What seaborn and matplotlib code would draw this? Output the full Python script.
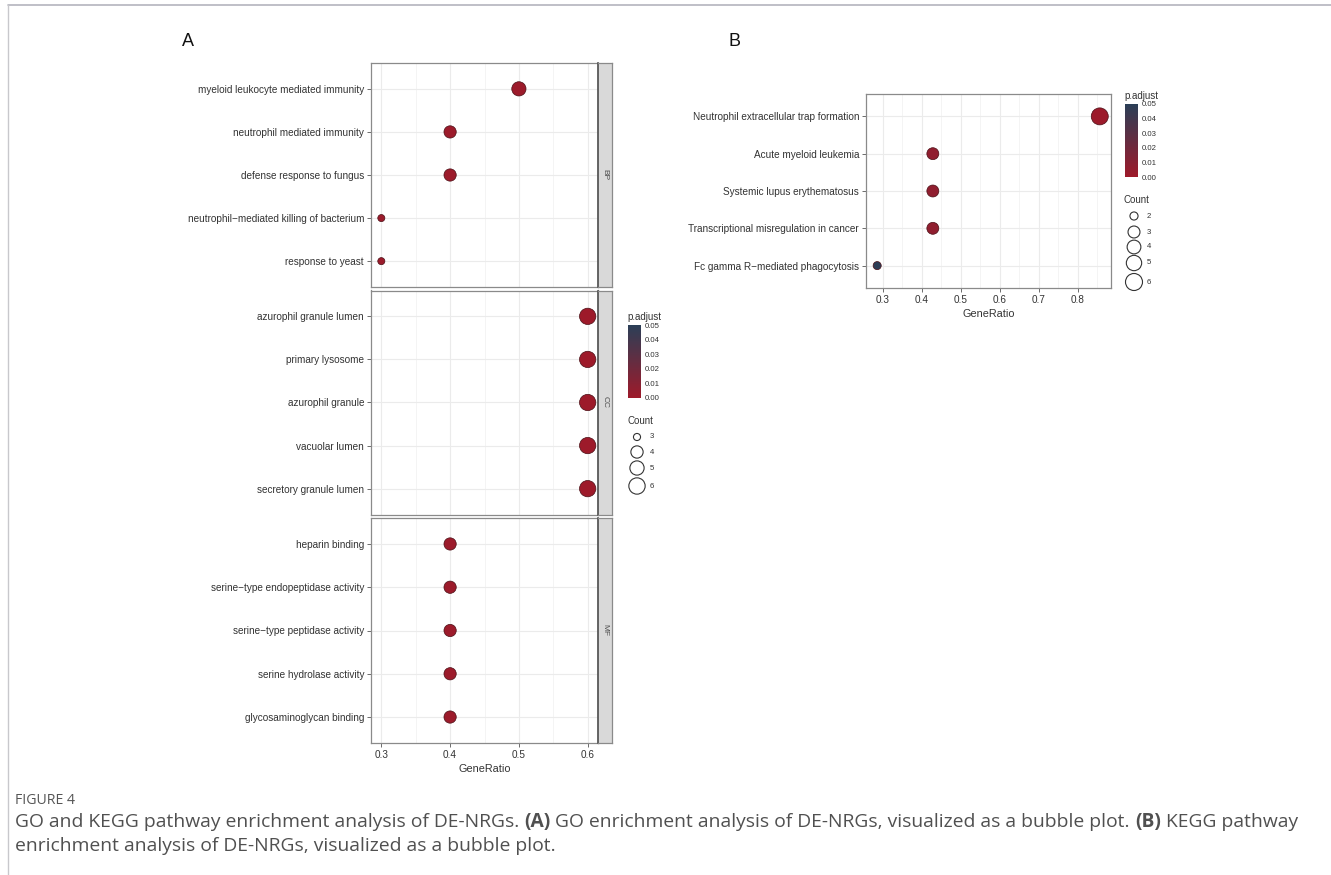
import matplotlib
matplotlib.use("Agg")
import matplotlib.pyplot as plt
import numpy as np
import pandas as pd
import seaborn as sns
from matplotlib.colors import LinearSegmentedColormap, Normalize
from matplotlib.cm import ScalarMappable
from matplotlib.ticker import MultipleLocator

sns.set_theme(style="white")
plt.rcParams["font.family"] = ["Liberation Sans", "DejaVu Sans"]

# ---------------- data ----------------
bp_terms = ["myeloid leukocyte mediated immunity", "neutrophil mediated immunity",
            "defense response to fungus", "neutrophil\u2212mediated killing of bacterium",
            "response to yeast"]
bp_ratio = [0.5, 0.4, 0.4, 0.3, 0.3]
bp_count = [5, 4, 4, 3, 3]
bp_padj = [0.0008, 0.0010, 0.0010, 0.0012, 0.0012]

cc_terms = ["azurophil granule lumen", "primary lysosome", "azurophil granule",
            "vacuolar lumen", "secretory granule lumen"]
cc_ratio = [0.6, 0.6, 0.6, 0.6, 0.6]
cc_count = [6, 6, 6, 6, 6]
cc_padj = [0.0005, 0.0005, 0.0005, 0.0005, 0.0005]

mf_terms = ["heparin binding", "serine\u2212type endopeptidase activity",
            "serine\u2212type peptidase activity", "serine hydrolase activity",
            "glycosaminoglycan binding"]
mf_ratio = [0.4, 0.4, 0.4, 0.4, 0.4]
mf_count = [4, 4, 4, 4, 4]
mf_padj = [0.0010, 0.0010, 0.0010, 0.0010, 0.0010]

kegg_terms = ["Neutrophil extracellular trap formation", "Acute myeloid leukemia",
              "Systemic lupus erythematosus", "Transcriptional misregulation in cancer",
              "Fc gamma R\u2212mediated phagocytosis"]
kegg_ratio = [6 / 7, 3 / 7, 3 / 7, 3 / 7, 2 / 7]
kegg_count = [6, 3, 3, 3, 2]
kegg_padj = [0.0008, 0.0060, 0.0060, 0.0060, 0.0490]

go_x_ticks = [0.3, 0.4, 0.5, 0.6]
kegg_x_ticks = [0.3, 0.4, 0.5, 0.6, 0.7, 0.8]
padj_ticks = [0.00, 0.01, 0.02, 0.03, 0.04, 0.05]
go_count_levels = [3, 4, 5, 6]
kegg_count_levels = [2, 3, 4, 5, 6]

# ---------------- styling ----------------
W, H = 1331, 875
fig = plt.figure(figsize=(W / 100, H / 100), dpi=100)
fig.patch.set_facecolor("white")

cmap = LinearSegmentedColormap.from_list("padj", ["#9E1A2A", "#2B3F57"])
norm = Normalize(0.0, 0.05)
go_sizes = {3: 26, 4: 78, 5: 105, 6: 138}
kegg_sizes = {2: 34, 3: 74, 4: 98, 5: 122, 6: 150}
EDGE = "#4a0e15"
TXT = "#333333"
BORDER = "#8a8a8a"


def rect(l, t, r, b):
    return [l / W, 1 - b / H, (r - l) / W, (b - t) / H]


# overlay in pixel coordinates for labels, legends and caption
ov = fig.add_axes([0, 0, 1, 1], zorder=-1)
ov.set_xlim(0, W)
ov.set_ylim(H, 0)
ov.axis("off")


def style_panel(ax, xlim, xticks, nrows, show_x):
    ax.set_xlim(*xlim)
    ax.set_ylim(nrows - 0.4, -0.6)
    ax.set_xticks(xticks)
    ax.xaxis.set_minor_locator(MultipleLocator(0.05))
    ax.grid(True, which="major", color="#ebebeb", lw=0.8)
    ax.grid(True, which="minor", axis="x", color="#f3f3f3", lw=0.6)
    ax.set_axisbelow(True)
    for s in ax.spines.values():
        s.set_color(BORDER)
        s.set_linewidth(0.9)
    ax.tick_params(axis="both", which="major", length=3, width=0.6, color="#555555",
                   labelsize=7.2, labelcolor=TXT, pad=2, bottom=show_x, left=True,
                   labelbottom=show_x)
    ax.tick_params(axis="both", which="minor", length=0)
    ax.set_xlabel("")
    ax.set_ylabel("")


def bubble(ax, terms, ratio, count, padj, sizes):
    df = pd.DataFrame({"Description": terms, "GeneRatio": ratio,
                       "Count": count, "p.adjust": padj})
    sns.scatterplot(data=df, x="GeneRatio", y="Description", hue="p.adjust",
                    hue_norm=norm, palette=cmap, size="Count", sizes=sizes,
                    edgecolor=EDGE, linewidth=0.5, legend=False, ax=ax, zorder=3)


# ---------------- panel A: GO facets ----------------
facets = [("BP", bp_terms, bp_ratio, bp_count, bp_padj, 63, 287),
          ("CC", cc_terms, cc_ratio, cc_count, cc_padj, 290.5, 514.5),
          ("MF", mf_terms, mf_ratio, mf_count, mf_padj, 518, 743)]
for i, (lab, terms, ratio, count, padj, top, bot) in enumerate(facets):
    ax = fig.add_axes(rect(371, top, 598, bot))
    bubble(ax, terms, ratio, count, padj, go_sizes)
    style_panel(ax, (0.285, 0.615), go_x_ticks, len(terms), i == 2)
    sax = fig.add_axes(rect(598, top, 612, bot))
    sax.set_facecolor("#d9d9d9")
    sax.set_xticks([])
    sax.set_yticks([])
    for s in sax.spines.values():
        s.set_color(BORDER)
        s.set_linewidth(0.9)
    sax.spines["left"].set_color("#4d4d4d")
    sax.spines["left"].set_linewidth(1.2)
    sax.text(0.5, 0.5, lab, rotation=270, ha="center", va="center",
             fontsize=6, color="#4d4d4d", transform=sax.transAxes)
    if i == 2:
        ax.set_xlabel("GeneRatio", fontsize=7.8, color=TXT, labelpad=3)

# ---------------- panel B: KEGG ----------------
axb = fig.add_axes(rect(866, 94, 1111, 288))
bubble(axb, kegg_terms, kegg_ratio, kegg_count, kegg_padj, kegg_sizes)
style_panel(axb, (0.257, 0.886), kegg_x_ticks, len(kegg_terms), True)
axb.set_xlabel("GeneRatio", fontsize=7.8, color=TXT, labelpad=3)


# ---------------- legends ----------------
def legends(x0, cb_top, cb_bot, count_title_y, rows, levels, sizes):
    ov.text(x0 - 1, cb_top - 3, "p.adjust", fontsize=7, color=TXT, ha="left", va="bottom")
    cax = fig.add_axes(rect(x0, cb_top, x0 + 12.5, cb_bot))
    cb = fig.colorbar(ScalarMappable(norm=norm, cmap=cmap), cax=cax)
    cb.outline.set_visible(False)
    cb.set_ticks(padj_ticks)
    cb.set_ticklabels([f"{t:.2f}" for t in padj_ticks])
    cax.tick_params(direction="in", color="white", length=2.5, width=0.6,
                    labelsize=5.6, labelcolor=TXT, pad=3)
    ov.text(x0 - 1, count_title_y, "Count", fontsize=7, color=TXT, ha="left", va="center")
    ov.scatter([x0 + 9] * len(levels), rows, s=[sizes[c] for c in levels],
               facecolor="white", edgecolor="#333333", linewidth=0.8)
    for yy, c in zip(rows, levels):
        ov.text(x0 + 22, yy, str(c), fontsize=5.6, color=TXT, ha="left", va="center")


legends(628, 325, 398, 421, [437, 452, 468, 486], go_count_levels, go_sizes)
legends(1125, 104, 177, 200, [216, 232, 247, 263, 282], kegg_count_levels, kegg_sizes)

# ---------------- panel letters ----------------
ov.text(188, 42, "A", fontsize=13, color="#111111", ha="center", va="center")
ov.text(735, 42, "B", fontsize=13, color="#111111", ha="center", va="center")

# page frame lines
ov.plot([8, W], [5, 5], color="#b4b4be", lw=1.2)
ov.plot([8, 8], [5, H], color="#c8c8cc", lw=1.0)

# ---------------- caption ----------------
body_font = dict(family="Open Sans", fontstretch="normal", fontweight="normal")
bold_font = dict(family="Open Sans", fontstretch="normal", fontweight="bold")
renderer = fig.canvas.get_renderer()

head = ov.text(15, 800, "FIGURE 4", fontsize=8, color="#555555", ha="left",
               va="center", **body_font)
hw = head.get_window_extent(renderer=renderer).width
head.set_fontsize(8 * 60 / hw)

line1 = [("GO and KEGG pathway enrichment analysis of DE-NRGs. ", False),
         ("(A)", True),
         (" GO enrichment analysis of DE-NRGs, visualized as a bubble plot. ", False),
         ("(B)", True), (" KEGG pathway", False)]
line2 = [("enrichment analysis of DE-NRGs, visualized as a bubble plot.", False)]


def rich_line(x, y, parts, size):
    arts = []
    for txt, bold in parts:
        t = ov.text(x, y, txt, fontsize=size, color="#505050", ha="left", va="center",
                    **(bold_font if bold else body_font))
        x += t.get_window_extent(renderer=renderer).width
        arts.append(t)
    return arts, x


# size the caption so the first line spans the text block width
probe, xend = rich_line(15, 822, line1, 12)
for a in probe:
    a.remove()
cap_size = 12 * (1293 - 15) / (xend - 15)
rich_line(15, 822, line1, cap_size)
rich_line(15, 846, line2, cap_size)

fig.savefig("out.png", dpi=100, facecolor="white")
